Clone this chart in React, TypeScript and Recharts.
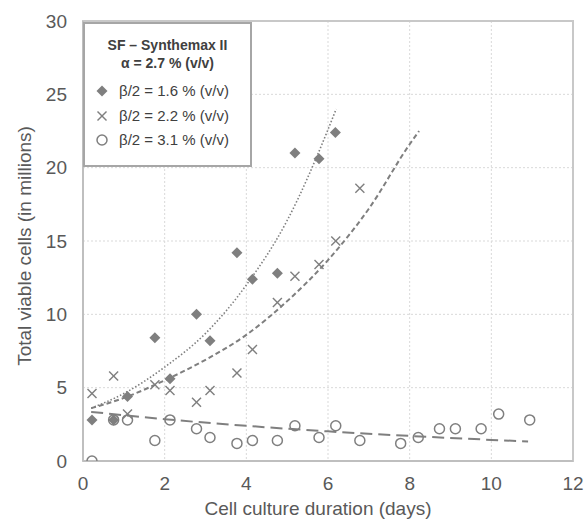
import React from 'react';
import { ComposedChart, Scatter, Line, XAxis, YAxis, CartesianGrid, ReferenceArea, Label } from 'recharts';

// Series 1: β/2 = 1.6 % (diamonds)
const daysA = [0.22, 0.75, 1.09, 1.76, 2.13, 2.78, 3.11, 3.77, 4.15, 4.76, 5.19, 5.78, 6.18];
const cellsA = [2.8, 2.8, 4.4, 8.4, 5.6, 10.0, 8.2, 14.2, 12.4, 12.8, 21.0, 20.6, 22.4];
// Series 2: β/2 = 2.2 % (crosses)
const daysB = [0.22, 0.75, 1.09, 1.76, 2.13, 2.78, 3.11, 3.77, 4.15, 4.76, 5.19, 5.78, 6.19, 6.78];
const cellsB = [4.6, 5.8, 3.2, 5.2, 4.8, 4.0, 4.8, 6.0, 7.6, 10.8, 12.6, 13.4, 15.0, 18.6];
// Series 3: β/2 = 3.1 % (open circles)
const daysC = [0.22, 0.75, 1.09, 1.76, 2.13, 2.78, 3.11, 3.77, 4.15, 4.76, 5.19, 5.78, 6.19, 6.78, 7.78, 8.21, 8.73, 9.12, 9.75, 10.18, 10.94];
const cellsC = [0, 2.8, 2.8, 1.4, 2.8, 2.2, 1.6, 1.2, 1.4, 1.4, 2.4, 1.6, 2.4, 1.4, 1.2, 1.6, 2.2, 2.2, 2.2, 3.2, 2.8];

// Trend lines
const trendAx = [0.2, 1, 2, 3, 4, 5, 6, 6.2];
const trendAy = [3.6, 4.6, 6.4, 8.7, 12.0, 16.4, 22.6, 24.0];
const trendBx = [0.2, 1, 2, 3, 4, 5, 6, 7, 8, 8.23];
const trendBy = [3.6, 4.3, 5.5, 6.9, 8.6, 10.9, 13.7, 17.2, 21.6, 22.5];
const trendCx = [0.2, 2, 4, 6, 8, 10, 10.9];
const trendCy = [3.35, 2.85, 2.4, 2.02, 1.71, 1.44, 1.33];

const xTicks = [0, 2, 4, 6, 8, 10, 12];
const yTicks = [0, 5, 10, 15, 20, 25, 30];

const legendTitle = 'SF – Synthemax II';
const legendSub = 'α = 2.7 % (v/v)';
const legendLabels = ['β/2 = 1.6 % (v/v)', 'β/2 = 2.2 % (v/v)', 'β/2 = 3.1 % (v/v)'];
const xTitle = 'Cell culture duration (days)';
const yTitle = 'Total viable cells (in millions)';

const zip = (xs: number[], ys: number[]) => xs.map((x, i) => ({ x, y: ys[i] }));
const dataA = zip(daysA, cellsA);
const dataB = zip(daysB, cellsB);
const dataC = zip(daysC, cellsC);
const lineA = zip(trendAx, trendAy);
const lineB = zip(trendBx, trendBy);
const lineC = zip(trendCx, trendCy);

const GRAY = '#7f7f7f';
const TEXT = '#595959';
const FONT = '"Liberation Sans", Arial, sans-serif';

const Diamond = (p: any) => {
  const { cx, cy } = p;
  if (cx == null || cy == null) return null;
  const s = 5.5;
  return <polygon points={`${cx},${cy - s} ${cx + s},${cy} ${cx},${cy + s} ${cx - s},${cy}`} fill={GRAY} />;
};
const Cross = (p: any) => {
  const { cx, cy } = p;
  if (cx == null || cy == null) return null;
  const s = 4.5;
  return (
    <g stroke={GRAY} strokeWidth={1.4}>
      <line x1={cx - s} y1={cy - s} x2={cx + s} y2={cy + s} />
      <line x1={cx - s} y1={cy + s} x2={cx + s} y2={cy - s} />
    </g>
  );
};
const Circle = (p: any) => {
  const { cx, cy } = p;
  if (cx == null || cy == null) return null;
  return <circle cx={cx} cy={cy} r={5} fill="none" stroke={GRAY} strokeWidth={1.5} />;
};

const LegendBox = () => {
  const icons = [
    <svg width={14} height={14} key="a"><polygon points="7,1.5 12.5,7 7,12.5 1.5,7" fill={GRAY} /></svg>,
    <svg width={14} height={14} key="b"><g stroke={GRAY} strokeWidth={1.4}><line x1={2.5} y1={2.5} x2={11.5} y2={11.5} /><line x1={2.5} y1={11.5} x2={11.5} y2={2.5} /></g></svg>,
    <svg width={14} height={14} key="c"><circle cx={7} cy={7} r={5} fill="none" stroke={GRAY} strokeWidth={1.5} /></svg>,
  ];
  return (
    <div
      style={{
        position: 'absolute',
        left: 83,
        top: 22,
        width: 169,
        height: 145,
        boxSizing: 'border-box',
        border: '2px solid #a6a6a6',
        background: '#fff',
        fontFamily: FONT,
        color: '#404040',
      }}
    >
      <div style={{ position: 'absolute', left: 0, right: 0, top: 12, textAlign: 'center', fontWeight: 'bold', fontSize: 14, lineHeight: '18px' }}>
        {legendTitle}
        <br />
        {legendSub}
      </div>
      {legendLabels.map((t, i) => (
        <div key={t} style={{ position: 'absolute', left: 10, top: 58 + i * 24.5, display: 'flex', alignItems: 'center', fontSize: 15, lineHeight: '18px', whiteSpace: 'nowrap' }}>
          {icons[i]}
          <span style={{ marginLeft: 10 }}>{t}</span>
        </div>
      ))}
    </div>
  );
};

export default function App() {
  return (
    <div style={{ position: 'absolute', left: 0, top: 0, width: 585, height: 523, background: '#fff' }}>
      <ComposedChart width={585} height={523} margin={{ top: 21, right: 12, left: 0, bottom: 0 }}>
        <CartesianGrid stroke="#d9d9d9" strokeDasharray="2 2" vertical horizontal />
        <XAxis
          dataKey="x"
          type="number"
          domain={[0, 12]}
          ticks={xTicks}
          allowDataOverflow
          height={62}
          tickLine={false}
          tickSize={0}
          tickMargin={16}
          axisLine={{ stroke: '#bfbfbf', strokeWidth: 2 }}
          tick={{ fill: TEXT, fontSize: 19, fontFamily: FONT }}
        >
          <Label
            content={() => (
              <text x={318} y={508} textAnchor="middle" dominantBaseline="central" fill={TEXT} fontSize={19} fontFamily={FONT}>
                {xTitle}
              </text>
            )}
          />
        </XAxis>
        <YAxis
          dataKey="y"
          type="number"
          domain={[0, 30]}
          ticks={yTicks}
          allowDataOverflow
          width={83}
          tickLine={false}
          tickSize={0}
          tickMargin={16}
          axisLine={{ stroke: '#bfbfbf', strokeWidth: 2 }}
          tick={{ fill: TEXT, fontSize: 19, fontFamily: FONT }}
        >
          <Label
            content={() => (
              <text x={24} y={246} transform="rotate(-90 24 246)" textAnchor="middle" dominantBaseline="central" fill={TEXT} fontSize={19} fontFamily={FONT}>
                {yTitle}
              </text>
            )}
          />
        </YAxis>
        <ReferenceArea x1={0} x2={12} y1={0} y2={30} fill="none" stroke="#c8c8c8" strokeWidth={2} ifOverflow="visible" />
        <Line data={lineA} dataKey="y" type="monotone" stroke={GRAY} strokeWidth={1.6} strokeDasharray="1.5 2" dot={false} activeDot={false} isAnimationActive={false} legendType="none" />
        <Line data={lineB} dataKey="y" type="monotone" stroke={GRAY} strokeWidth={2} strokeDasharray="5 3" dot={false} activeDot={false} isAnimationActive={false} legendType="none" />
        <Line data={lineC} dataKey="y" type="monotone" stroke={GRAY} strokeWidth={2} strokeDasharray="12 6" dot={false} activeDot={false} isAnimationActive={false} legendType="none" />
        <Scatter data={dataC} dataKey="y" shape={Circle} isAnimationActive={false} />
        <Scatter data={dataB} dataKey="y" shape={Cross} isAnimationActive={false} />
        <Scatter data={dataA} dataKey="y" shape={Diamond} isAnimationActive={false} />
      </ComposedChart>
      <LegendBox />
    </div>
  );
}
